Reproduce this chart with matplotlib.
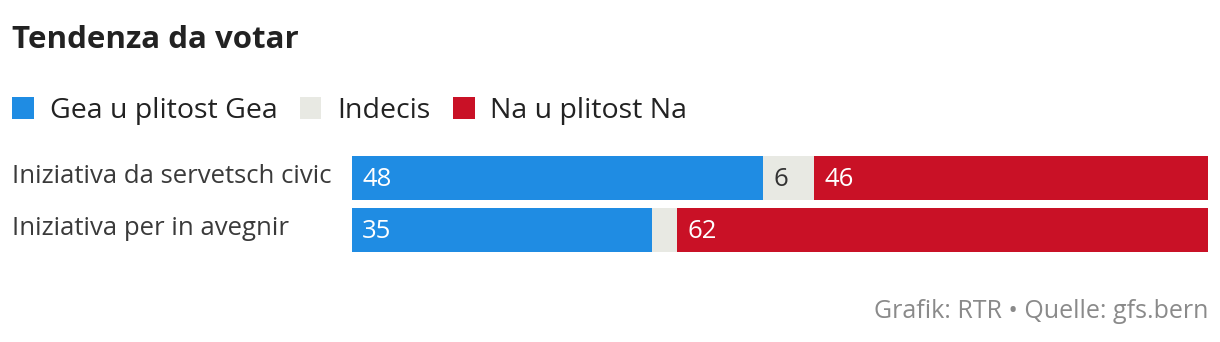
import matplotlib.pyplot as plt
from matplotlib.patches import Patch
import numpy as np

plt.rcParams['font.family'] = ['Open Sans', 'DejaVu Sans']

title = "Tendenza da votar"
categories = ["Iniziativa da servetsch civic", "Iniziativa per in avegnir"]
series = ["Gea u plitost Gea", "Indecis", "Na u plitost Na"]
yes = [48, 35]
undecided = [6, 3]
no = [46, 62]
colors = ["#1f8ce3", "#e8e9e3", "#c91126"]
text_colors = ["white", "#333333", "white"]
source = "Grafik: RTR \u2022 Quelle: gfs.bern"

W, H = 1220, 342
fig = plt.figure(figsize=(W / 100, H / 100), dpi=100)
ax = fig.add_axes([352 / W, 1 - 252 / H, (1208 - 352) / W, 96 / H])

y = np.arange(len(categories))
left = np.zeros(len(categories))
for vals, col, tcol in zip([yes, undecided, no], colors, text_colors):
    vals = np.array(vals)
    ax.barh(y, vals, left=left, height=44 / 52, color=col, linewidth=0)
    for yi, l, v in zip(y, left, vals):
        if v >= 5:
            ax.text(l + 1.2, yi + 0.03, str(v), color=tcol, fontsize=18.5,
                    va="center", ha="left")
    left += vals

ax.set_xlim(0, 100)
ax.set_ylim(len(categories) - 1 + 0.423, -0.423)
ax.axis("off")

for yi, cat in zip(y, categories):
    ax.text(-340 / 856 * 100, yi - 0.02, cat, fontsize=18.5,
            color="#3a3a3a", va="center", ha="left", clip_on=False)

fig.text(12 / W, 1 - 40 / H, title, fontsize=22.5, fontweight="bold",
         color="#222222", va="center", ha="left")

handles = [Patch(facecolor=c, edgecolor="none") for c in colors]
fig.legend(handles, series, loc="center left", bbox_to_anchor=(12 / W, 1 - 111 / H),
           ncol=3, frameon=False, fontsize=20.5, handlelength=0.77, handleheight=0.77,
           handletextpad=0.56, columnspacing=0.77, borderpad=0, borderaxespad=0,
           labelcolor="#222222")

fig.text(1208 / W, 1 - 312 / H, source, fontsize=18, color="#8a8a8a",
         va="center", ha="right")

fig.savefig("out.png", dpi=100)
